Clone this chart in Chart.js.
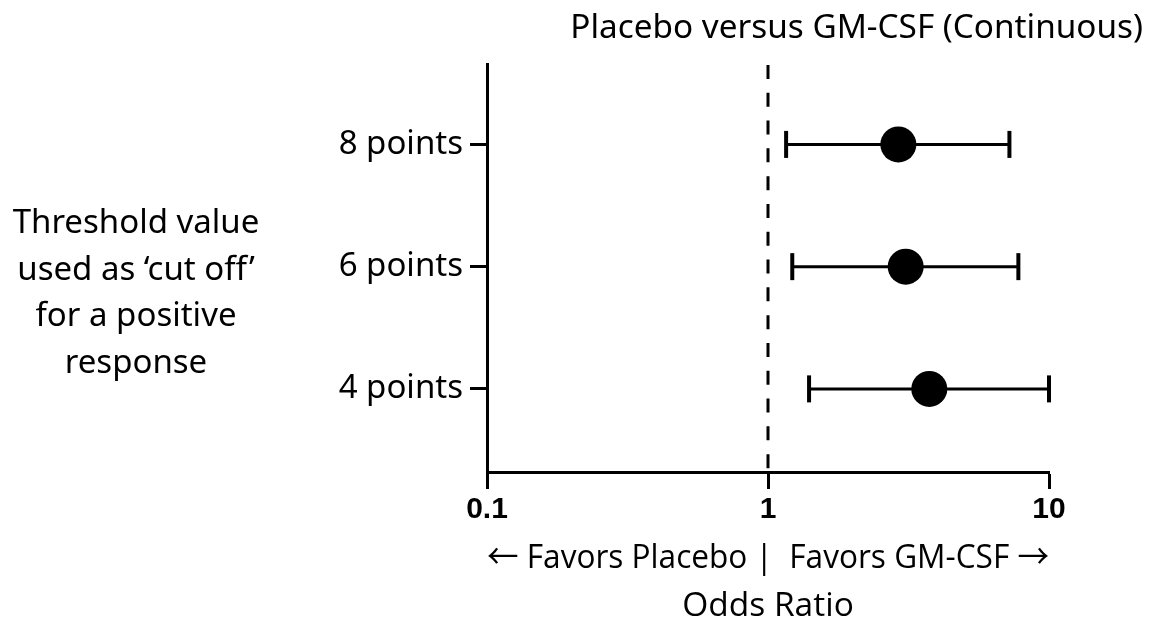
<!DOCTYPE html>
<html>
<head>
<meta charset="utf-8">
<title>Placebo versus GM-CSF (Continuous)</title>
<script src="https://cdn.jsdelivr.net/npm/chart.js@4.4.1/dist/chart.umd.min.js"></script>
<style>
  html, body { margin: 0; padding: 0; background: #fff; }
  canvas { display: block; }
</style>
</head>
<body>
<canvas id="forest" width="1155" height="633"></canvas>
<script>
// Odds ratios with 95% confidence intervals, one row per threshold
const categories = ['8 points', '6 points', '4 points'];
const oddsRatio = [2.91, 3.09, 3.75];
const ciLower = [1.16, 1.22, 1.40];
const ciUpper = [7.23, 7.78, 10.0];

// Log axis ticks
const xTickValues = [0.1, 1, 10];
const xTickLabels = ['0.1', '1', '10'];

// Line of no effect
const nullEffect = 1;

const chartTitle = 'Placebo versus GM-CSF (Continuous)';
const xTitleLines = ['\u2190 Favors Placebo |  Favors GM-CSF \u2192', 'Odds Ratio'];
const sideLabelLines = ['Threshold value', 'used as \u2018cut off\u2019', 'for a positive', 'response'];

// rows are stacked top to bottom: first category sits highest
const rowOf = i => categories.length - i;
const yMin = 0.32, yMax = 3.65;

const FONT = '"Noto Sans", "DejaVu Sans", sans-serif';
// Latin face without arrow glyphs, so the arrows come from the wide CJK face
const ARROW_FONT = '"Open Sans", "Noto Sans CJK SC", sans-serif';

// Horizontal multi-line label to the left of the row labels
const sideLabel = {
  id: 'sideLabel',
  afterDraw(chart) {
    const { ctx } = chart;
    ctx.save();
    ctx.font = '33px ' + FONT;
    ctx.fillStyle = '#000';
    ctx.textAlign = 'center';
    ctx.textBaseline = 'alphabetic';
    sideLabelLines.forEach((t, i) => ctx.fillText(t, 136, 233 + i * 46.7));
    ctx.restore();
  }
};

const ciSets = categories.map((c, i) => ({
  type: 'line',
  label: c + ' CI',
  data: [{ x: ciLower[i], y: rowOf(i) }, { x: ciUpper[i], y: rowOf(i) }],
  borderColor: '#000',
  borderWidth: 3,
  pointStyle: 'line',
  pointRotation: 90,
  pointRadius: 13.5,
  pointHoverRadius: 13.5,
  pointBorderWidth: 4,
  pointBorderColor: '#000',
  clip: false,
  order: 1
}));

const pointSet = {
  type: 'scatter',
  label: 'Odds ratio',
  data: oddsRatio.map((v, i) => ({ x: v, y: rowOf(i) })),
  pointRadius: 18,
  pointHoverRadius: 18,
  backgroundColor: '#000',
  pointBackgroundColor: '#000',
  pointBorderWidth: 0,
  borderWidth: 0,
  clip: false,
  order: 0
};

const nullLine = {
  type: 'line',
  label: 'No effect',
  data: [{ x: nullEffect, y: yMax }, { x: nullEffect, y: yMin }],
  borderColor: '#000',
  borderWidth: 3,
  borderDash: [14, 13.8],
  pointRadius: 0,
  order: 2
};

const axisGrid = {
  display: true,
  drawOnChartArea: false,
  drawTicks: true,
  tickLength: 17,
  tickWidth: 3,
  tickColor: '#000',
  color: '#000'
};
const axisBorder = { display: true, color: '#000', width: 3 };

new Chart(document.getElementById('forest'), {
  type: 'scatter',
  data: { datasets: [pointSet, ...ciSets, nullLine] },
  plugins: [sideLabel],
  options: {
    responsive: false,
    animation: false,
    events: [],
    layout: { padding: { left: 0, right: 12, top: 0, bottom: 0 } },
    plugins: {
      legend: { display: false },
      tooltip: { enabled: false },
      title: {
        display: true,
        text: chartTitle,
        align: 'end',
        color: '#000',
        font: { family: FONT, size: 33.3, weight: 'normal', lineHeight: 1.2 },
        padding: { top: 9, bottom: 16 }
      }
    },
    scales: {
      x: {
        type: 'logarithmic',
        min: 0.1,
        max: 10,
        afterBuildTicks: s => { s.ticks = xTickValues.map(v => ({ value: v })); },
        afterFit: s => { s.height = 161; s.paddingRight = 106; },
        ticks: {
          autoSkip: false,
          maxRotation: 0,
          padding: 3,
          color: '#000',
          font: { family: '"Liberation Sans", Arial, sans-serif', size: 30, weight: 'bold' },
          callback: (v, idx) => xTickLabels[idx]
        },
        grid: axisGrid,
        border: axisBorder,
        title: {
          display: true,
          text: xTitleLines,
          color: '#000',
          font: { family: ARROW_FONT, size: 33.5, lineHeight: 1.45 },
          padding: { top: 4, bottom: 2 }
        }
      },
      y: {
        type: 'linear',
        min: yMin,
        max: yMax,
        afterBuildTicks: s => { s.ticks = categories.map((c, i) => ({ value: rowOf(i) })).reverse(); },
        afterFit: s => { s.width = 487; },
        ticks: {
          padding: 7,
          color: '#000',
          font: { family: FONT, size: 33 },
          callback: v => categories[categories.length - v]
        },
        grid: axisGrid,
        border: axisBorder
      }
    }
  }
});
</script>
</body>
</html>
